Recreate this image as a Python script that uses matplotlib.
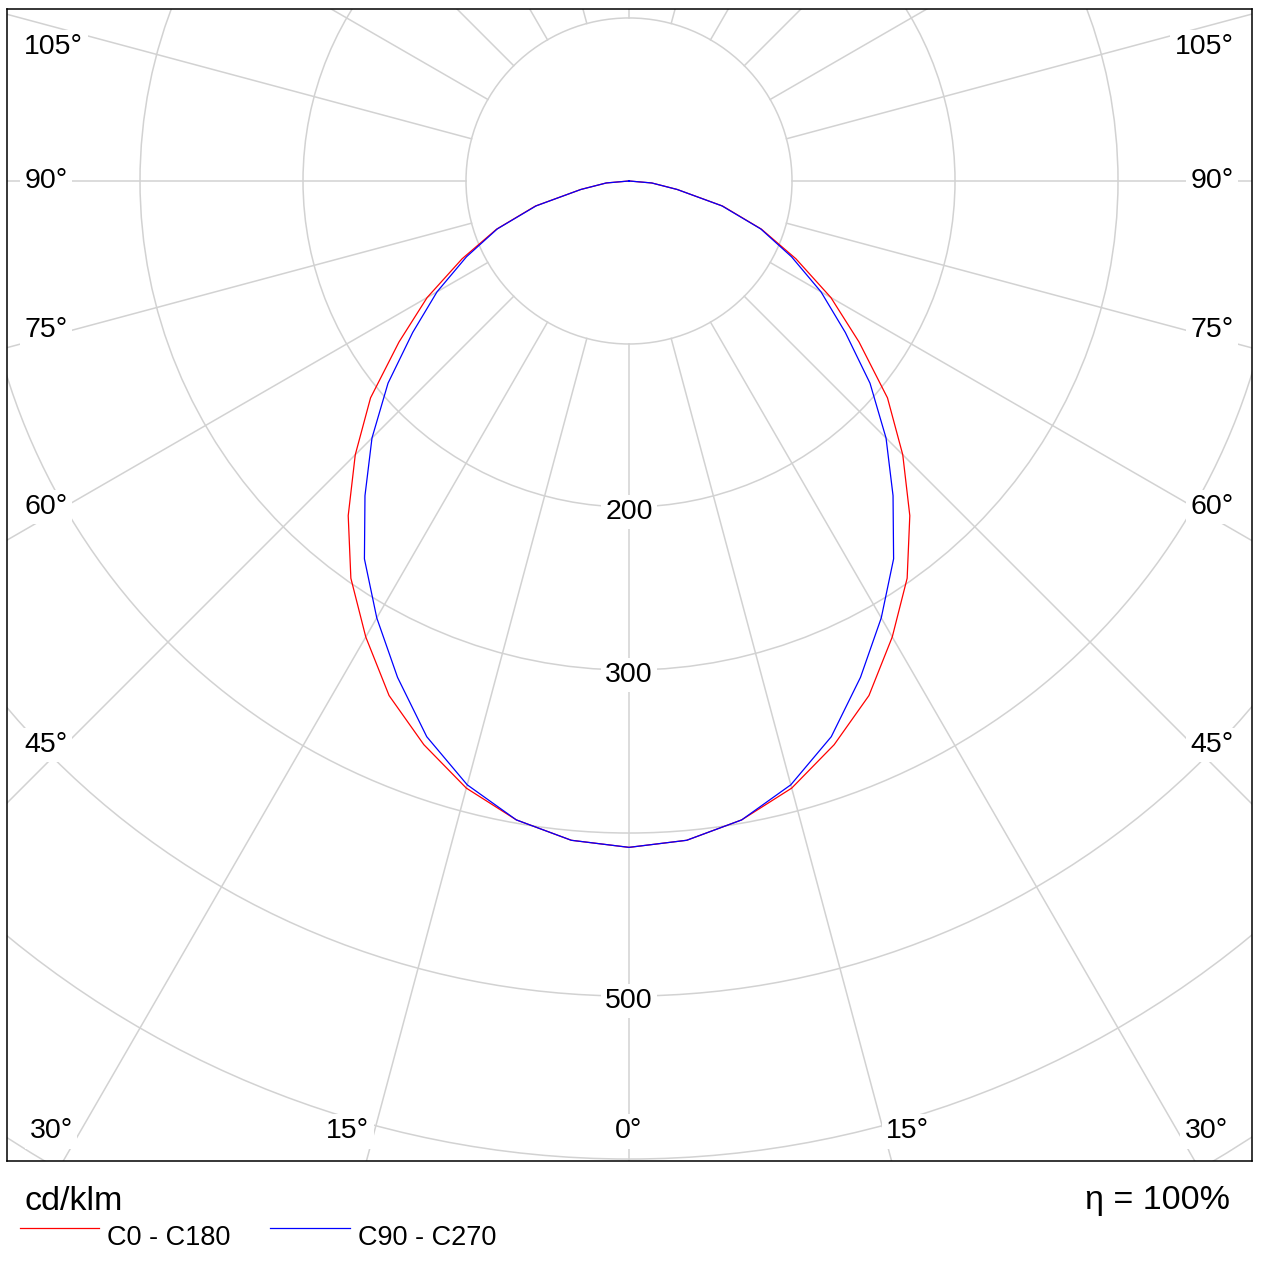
import numpy as np
import matplotlib.pyplot as plt
from matplotlib.patches import Circle
from matplotlib.lines import Line2D

plt.rcParams['font.family'] = ['Liberation Sans', 'DejaVu Sans']

# gamma angles (deg) and luminous intensity (cd/klm), symmetric half planes
gamma_deg = [0, 5, 10, 15, 20, 25, 30, 35, 40, 45, 50, 55, 60, 65, 70, 75, 80, 85, 90]
c0_c180 = [408.8, 406, 398, 385.6, 368, 348.3, 323, 297.5, 268, 237.5,
           207, 172.3, 143, 113, 86.5, 59.5, 30, 14, 0]
c90_c270 = [408.8, 406, 398, 383.5, 362.8, 336, 309.5, 283, 252, 223,
            193, 162, 136, 110, 86, 59, 30, 14, 0]

ring_values = [100, 200, 300, 400, 500, 600, 700]
ring_labels = [200, 300, 500]
spoke_angles = list(range(0, 360, 15))

# angle labels: (text, x, y, ha) in cd/klm coordinates
angle_labels = [
    ('105°', -371, 82, 'left'), ('90°', -371, 0, 'left'), ('75°', -371, -91.5, 'left'),
    ('60°', -371, -200, 'left'), ('45°', -371, -346, 'left'),
    ('105°', 371, 82, 'right'), ('90°', 371, 0, 'right'), ('75°', 371, -91.5, 'right'),
    ('60°', 371, -200, 'right'), ('45°', 371, -346, 'right'),
    ('30°', -354.5, -583, 'center'), ('15°', -172.5, -583, 'center'), ('0°', 0, -583, 'center'),
    ('15°', 171, -583, 'center'), ('30°', 354, -583, 'center'),
]

GRID = '#d2d2d2'


def to_xy(vals):
    g = np.radians(np.array(gamma_deg, dtype=float))
    v = np.array(vals, dtype=float)
    xs = v * np.sin(g)
    ys = -v * np.cos(g)
    x = np.concatenate([-xs[::-1], xs[1:]])
    y = np.concatenate([ys[::-1], ys[1:]])
    return x, y


fig = plt.figure(figsize=(12.65, 12.71), dpi=100)
ax = fig.add_axes([7 / 1265, 1 - 1161 / 1271, 1245 / 1265, 1152 / 1271])
ax.set_xlim(-381.6, 382.2)
ax.set_ylim(-601.2, 105.5)
ax.set_xticks([])
ax.set_yticks([])
for s in ax.spines.values():
    s.set_color('black')
    s.set_linewidth(1.1)

# grid
for r in ring_values:
    ax.add_patch(Circle((0, 0), r, fill=False, edgecolor=GRID, linewidth=1.1, zorder=1))
for a in spoke_angles:
    t = np.radians(a)
    ax.plot([100 * np.sin(t), 1000 * np.sin(t)], [-100 * np.cos(t), -1000 * np.cos(t)],
            color=GRID, linewidth=1.1, zorder=1)

box = dict(facecolor='white', edgecolor='none', pad=3)
for v in ring_labels:
    ax.text(0, -v - 3, str(v), ha='center', va='center', fontsize=20.5, bbox=box, zorder=3)
for txt, x, y, ha in angle_labels:
    ax.text(x, y, txt, ha=ha, va='center', fontsize=20.5, bbox=box, zorder=3)

# curves
xr, yr = to_xy(c0_c180)
xb, yb = to_xy(c90_c270)
ax.plot(xr, yr, color='#ff0000', linewidth=0.9, zorder=4)
ax.plot(xb, yb, color='#0000ff', linewidth=0.9, zorder=5)

# footer
fig.text(24 / 1265, 1 - 1210 / 1271, 'cd/klm', fontsize=24.5, va='baseline', ha='left')
fig.text(1230 / 1265, 1 - 1209 / 1271, 'η = 100%', fontsize=24.5, va='baseline', ha='right')

ly = 1 - 1228 / 1271
fig.add_artist(Line2D([20 / 1265, 99 / 1265], [ly, ly], color='#ff0000', linewidth=0.9))
fig.add_artist(Line2D([270 / 1265, 350 / 1265], [ly, ly], color='#0000ff', linewidth=0.9))
fig.text(107 / 1265, 1 - 1245 / 1271, 'C0 - C180', fontsize=19.5, va='baseline', ha='left')
fig.text(358 / 1265, 1 - 1245 / 1271, 'C90 - C270', fontsize=19.5, va='baseline', ha='left')

fig.savefig('out.png', dpi=100, facecolor='white')
